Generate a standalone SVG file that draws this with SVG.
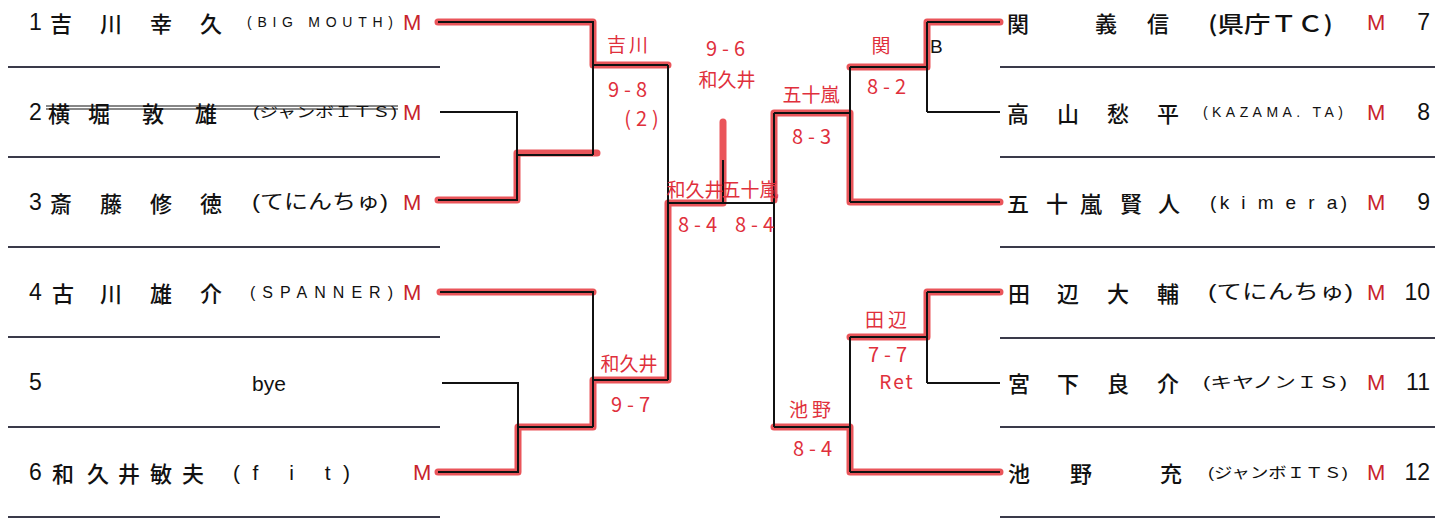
<svg xmlns="http://www.w3.org/2000/svg" width="1453" height="518" viewBox="0 0 1453 518">
<style>
.nm{font-family:"Noto Sans CJK JP","Liberation Sans",sans-serif;font-size:22px;fill:#111;dominant-baseline:central;font-weight:500}
.num{font-family:"Liberation Sans",sans-serif;font-size:23px;fill:#111;dominant-baseline:central}
.sm{font-family:"Liberation Sans","Noto Sans CJK JP",sans-serif;fill:#111;dominant-baseline:central}
.m{font-family:"Liberation Sans",sans-serif;font-size:22px;fill:#c8232c;dominant-baseline:central}
.sep{stroke:#3a3a4a;stroke-width:2;fill:none}
.bk{stroke:#111;stroke-width:2;fill:none}
.rd{stroke:#e8474c;stroke-width:7;fill:none;stroke-linecap:round;stroke-linejoin:round;opacity:0.92}
.hw{font-family:"Noto Sans CJK JP",sans-serif;font-size:19px;fill:#e0303c;text-anchor:middle;dominant-baseline:central}
.sc{font-size:20px;letter-spacing:5px}
</style>
<rect width="1453" height="518" fill="#fff"/>
<g id="separators">
<path class="sep" d="M8,67H440M8,157H440M8,247H440M8,337H440M8,427H440M8,517H440"/>
<path class="sep" d="M1000,67H1435M1000,157H1435M1000,247H1435M1000,338H1435M1000,427H1435M1000,517H1435"/>
</g>
<g id="connectors">
<path class="rd" d="M438,22H593V65H668"/>
<path class="rd" d="M438,200H517V153H597"/>
<path class="rd" d="M440,292H593"/>
<path class="rd" d="M438,472H518V427H593V380H668V203H723V122"/>
<path class="rd" d="M1000,202H850V113H774V200"/>
<path class="rd" d="M1000,22H927V67H850"/>
<path class="rd" d="M1000,292H927V337H850"/>
<path class="rd" d="M1000,472H850V427H774"/>
<path class="bk" d="M438,22H593V155M593,65H668M440,112H517V200H438M517,155H593M668,65V380M668,203H774M723,160V203M440,292H593V427M442,383H518V472H438M518,427H593M593,380H668"/>
<path class="bk" d="M774,113V427M774,113H850M774,427H850M850,67V202M850,67H927M850,202H1000M927,22V112M927,22H1000M927,112H1000M850,337V472M850,337H927M850,472H1000M927,292V383M927,292H1000M927,383H1000"/>
</g>
<g id="p1">
<text class="num" x="29" y="22">1</text>
<text class="nm" x="50 100 150 200" y="22">吉川幸久</text>
<text class="sm" x="247" y="22" font-size="14" textLength="146" lengthAdjust="spacing">(BIG MOUTH)</text>
<text class="m" x="403" y="22">M</text>
</g>
<g id="p2">
<text class="num" x="29" y="112">2</text>
<text class="nm" x="48 88 142 195" y="112">横堀敦雄</text>
<text class="sm" x="253" y="112" font-size="14" textLength="144" lengthAdjust="spacingAndGlyphs">(ジャンボＩＴＳ)</text>
<path d="M46,106H398M46,109H398" stroke="#111" stroke-width="1.2" fill="none"/>
<text class="m" x="403" y="112">M</text>
</g>
<g id="p3">
<text class="num" x="29" y="202">3</text>
<text class="nm" x="50 100 150 200" y="202">斎藤修徳</text>
<text class="sm" x="252" y="202" font-size="20" textLength="136" lengthAdjust="spacingAndGlyphs">(てにんちゅ)</text>
<text class="m" x="403" y="202">M</text>
</g>
<g id="p4">
<text class="num" x="29" y="292">4</text>
<text class="nm" x="52 100 150 200" y="292">古川雄介</text>
<text class="sm" x="250" y="292" font-size="16" textLength="143" lengthAdjust="spacing">(SPANNER)</text>
<text class="m" x="403" y="292">M</text>
</g>
<g id="p5">
<text class="num" x="29" y="382">5</text>
<text class="sm" x="252" y="383" font-size="21">bye</text>
</g>
<g id="p6">
<text class="num" x="29" y="472">6</text>
<text class="nm" x="52 87 118 150 182" y="472">和久井敏夫</text>
<text class="sm" x="233" y="472" font-size="21" textLength="117" lengthAdjust="spacing">(f i t)</text>
<text class="m" x="413" y="472">M</text>
</g>
<g id="p7">
<text class="nm" x="1007 1095 1147" y="22">関義信</text>
<text class="nm" x="1208" y="22" font-size="21" textLength="125" lengthAdjust="spacingAndGlyphs">(県庁ＴＣ)</text>
<text class="m" x="1367" y="22">M</text>
<text class="num" x="1430" y="22" text-anchor="end">7</text>
</g>
<g id="p8">
<text class="nm" x="1007 1057 1107 1157" y="112">高山愁平</text>
<text class="sm" x="1203" y="112" font-size="14" textLength="140" lengthAdjust="spacing">(KAZAMA. TA)</text>
<text class="m" x="1367" y="112">M</text>
<text class="num" x="1430" y="112" text-anchor="end">8</text>
</g>
<g id="p9">
<text class="nm" x="1007 1046 1080 1120 1158" y="202">五十嵐賢人</text>
<text class="sm" x="1210" y="202" font-size="19" textLength="137" lengthAdjust="spacing">(k i m e r a)</text>
<text class="m" x="1367" y="202">M</text>
<text class="num" x="1430" y="202" text-anchor="end">9</text>
</g>
<g id="p10">
<text class="nm" x="1008 1057 1107 1157" y="292">田辺大輔</text>
<text class="sm" x="1208" y="292" font-size="20" textLength="145" lengthAdjust="spacingAndGlyphs">(てにんちゅ)</text>
<text class="m" x="1367" y="292">M</text>
<text class="num" x="1430" y="292" text-anchor="end">10</text>
</g>
<g id="p11">
<text class="nm" x="1008 1057 1107 1157" y="382">宮下良介</text>
<text class="sm" x="1203" y="382" font-size="16" textLength="144" lengthAdjust="spacingAndGlyphs">(キヤノンＩＳ)</text>
<text class="m" x="1367" y="382">M</text>
<text class="num" x="1430" y="382" text-anchor="end">11</text>
</g>
<g id="p12">
<text class="nm" x="1008 1070 1160" y="472">池野充</text>
<text class="sm" x="1208" y="472" font-size="15" textLength="140" lengthAdjust="spacingAndGlyphs">(ジャンボＩＴＳ)</text>
<text class="m" x="1367" y="472">M</text>
<text class="num" x="1430" y="472" text-anchor="end">12</text>
</g>
<g id="labels">
<text class="hw" x="629" y="43" font-size="22" letter-spacing="3">吉川</text>
<text class="hw sc" x="630" y="88">9-8</text>
<text class="hw sc" x="644" y="117">(2)</text>
<text class="hw sc" x="728" y="47">9-6</text>
<text class="hw" x="727" y="78" font-size="21">和久井</text>
<text class="hw" x="695" y="188" font-size="15">和久井</text>
<text class="hw" x="750" y="188" font-size="14">五十嵐</text>
<text class="hw sc" x="700" y="223">8-4</text>
<text class="hw sc" x="757" y="223">8-4</text>
<text class="hw" x="629" y="362" font-size="20">和久井</text>
<text class="hw sc" x="633" y="403">9-7</text>
<text class="hw" x="811" y="93" font-size="20">五十嵐</text>
<text class="hw sc" x="814" y="135">8-3</text>
<text class="hw" x="881" y="44" font-size="24">関</text>
<text class="hw sc" x="889" y="85">8-2</text>
<text x="930" y="46" font-family="Liberation Sans,sans-serif" font-size="19" fill="#111" dominant-baseline="central">B</text>
<text class="hw" x="888" y="318" font-size="22" letter-spacing="4">田辺</text>
<text class="hw sc" x="890" y="353" font-size="15" letter-spacing="4">7-7</text>
<text class="hw" x="897" y="380" font-size="14" letter-spacing="2">Ret</text>
<text class="hw" x="812" y="408" font-size="22" letter-spacing="4">池野</text>
<text class="hw sc" x="815" y="447">8-4</text>
</g>
</svg>
